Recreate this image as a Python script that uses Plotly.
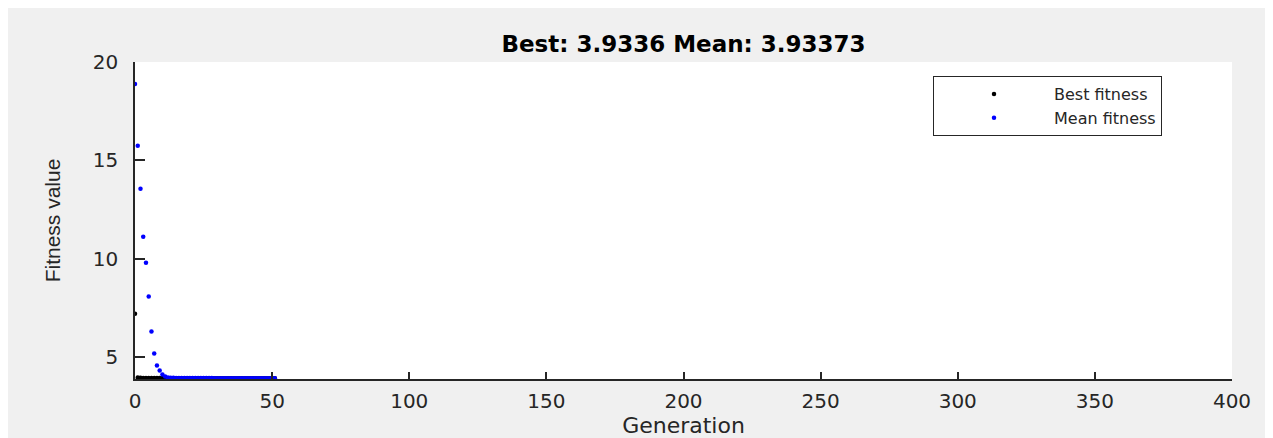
import plotly.graph_objects as go

# ---- data ----
generations = list(range(0, 52))

mean_fitness = [
    18.88, 15.74, 13.56, 11.12, 9.80, 8.08, 6.30, 5.19, 4.58, 4.32,
    4.12, 4.02, 3.97, 3.955, 3.948, 3.944, 3.941, 3.939, 3.938, 3.937,
    3.9365, 3.936, 3.9358, 3.9355, 3.9352, 3.935, 3.9348, 3.9346, 3.9345, 3.9344,
    3.9343, 3.9342, 3.9341, 3.9340, 3.9340, 3.9339, 3.9339, 3.9339, 3.9338, 3.9338,
    3.9338, 3.9338, 3.9338, 3.9337, 3.9337, 3.9337, 3.9337, 3.9337, 3.9337, 3.9337,
    3.9337, 3.93373,
]

best_fitness = [
    7.21, 3.96, 3.95, 3.945, 3.94, 3.938, 3.937, 3.936, 3.9355, 3.935,
    3.9345, 3.934, 3.9339, 3.9338, 3.9338, 3.9337, 3.9337, 3.9337, 3.9337, 3.9337,
    3.9337, 3.9337, 3.9336, 3.9336, 3.9336, 3.9336, 3.9336, 3.9336, 3.9336, 3.9336,
    3.9336, 3.9336, 3.9336, 3.9336, 3.9336, 3.9336, 3.9336, 3.9336, 3.9336, 3.9336,
    3.9336, 3.9336, 3.9336, 3.9336, 3.9336, 3.9336, 3.9336, 3.9336, 3.9336, 3.9336,
    3.9336, 3.9336,
]

x_ticks = [0, 50, 100, 150, 200, 250, 300, 350, 400]
y_ticks = [5, 10, 15, 20]

title_text = "Best: 3.9336 Mean: 3.93373"

# ---- figure (page has an 8px body margin, so the figure is 8px smaller) ----
OFF = 8
W, H = 1273 - OFF, 438 - OFF
ML, MR, MT, MB = 135 - OFF, 41, 62 - OFF, 59
pw, ph = W - ML - MR, H - MT - MB

fig = go.Figure()
fig.add_trace(go.Scatter(
    x=generations, y=best_fitness, mode="markers", name="Best fitness",
    marker=dict(color="#000000", size=4.5), cliponaxis=True,
))
fig.add_trace(go.Scatter(
    x=generations, y=mean_fitness, mode="markers", name="Mean fitness",
    marker=dict(color="#0000ff", size=4.5), cliponaxis=True,
))

axis_col = "#262626"
fig.update_layout(
    width=W, height=H,
    margin=dict(l=ML, r=MR, t=MT, b=MB, autoexpand=False),
    paper_bgcolor="#f0f0f0",
    plot_bgcolor="#ffffff",
    title=dict(
        text="<b>" + title_text + "</b>",
        x=0.5, xref="paper", xanchor="center",
        y=1 - (44 - OFF) / H, yref="container", yanchor="middle",
        font=dict(family="DejaVu Sans", size=23, color="#000000"),
    ),
    xaxis=dict(
        range=[0, 400], tickvals=x_ticks, ticktext=[str(v) for v in x_ticks],
        showgrid=False, zeroline=False,
        showline=True, linecolor=axis_col, linewidth=1.5,
        ticks="inside", ticklen=7, tickwidth=1.5, tickcolor=axis_col,
        tickfont=dict(family="DejaVu Sans", size=20, color=axis_col),
        ticklabelstandoff=3,
        title=dict(text="Generation", standoff=15,
                   font=dict(family="DejaVu Sans", size=22, color=axis_col)),
        automargin=False,
    ),
    yaxis=dict(
        range=[3.89, 20], tickvals=y_ticks, ticktext=[str(v) for v in y_ticks],
        showgrid=False, zeroline=False,
        showline=True, linecolor=axis_col, linewidth=1.5,
        ticks="inside", ticklen=10, tickwidth=1.5, tickcolor=axis_col,
        tickfont=dict(family="DejaVu Sans", size=20, color=axis_col),
        ticklabelstandoff=11,
        title=dict(text="Fitness value", standoff=26,
                   font=dict(family="Liberation Sans", size=21, color=axis_col)),
        automargin=False,
    ),
    legend=dict(
        orientation="v",
        x=(933 - 135) / pw, xanchor="left",
        y=(438 - 59 - 76) / ph, yanchor="top",
        bgcolor="#ffffff", bordercolor=axis_col, borderwidth=1,
        font=dict(family="DejaVu Sans", size=16, color=axis_col),
        itemwidth=110, tracegroupgap=0,
    ),
    showlegend=True,
)

fig.write_html("out.html")
